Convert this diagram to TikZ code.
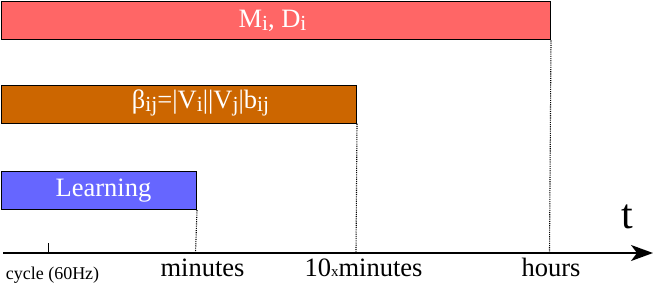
\documentclass[tikz,border=0pt]{standalone}
\usepackage{fontspec}
\setmainfont{Liberation Serif}
\usepackage{tikz}
\usetikzlibrary{arrows.meta,positioning}
\definecolor{slowbar}{RGB}{255,102,102}
\definecolor{midbar}{RGB}{204,102,0}
\definecolor{fastbar}{RGB}{102,102,255}
\newcommand{\lowidx}[1]{\raisebox{-3.5pt}{\fontsize{21.5}{22}\selectfont #1}}

\begin{document}
\begin{tikzpicture}[
  x=1pt, y=-1pt, font=\fontsize{26.5}{30}\selectfont,
  bar/.style={draw, line width=1.2pt, anchor=north west, inner sep=0pt, minimum height=38pt},
  lbl/.style={anchor=base, text=white, inner sep=0pt},
  tlbl/.style={anchor=base, inner sep=0pt},
  guide/.style={line width=1.1pt, dash pattern=on 1.1pt off 1.1pt},
  ar/.style={-{Stealth[length=22pt,width=16pt,inset=6pt]}, line width=1.8pt}
]
\useasboundingbox (0,0) rectangle (654,285);

% bars
\node[bar, fill=slowbar, minimum width=549pt] (md) at (0.8,1.2) {};
\node[bar, fill=midbar, minimum width=355pt] (beta) at (0.8,84.5) {};
\node[bar, fill=fastbar, minimum width=195pt] (learn) at (0.8,171) {};
\node[lbl] (mdlbl) at (272.5,27) {M\lowidx{i}, D\lowidx{i}};
\node[lbl] (betalbl) at (200.5,108) {β\lowidx{ij}=|V\lowidx{i}||V\lowidx{j}|b\lowidx{ij}};
\node[lbl] (learnlbl) at (103.5,196) {Learning};

% time axis
\coordinate (o) at (3,253);
\coordinate (tend) at (653,253);
\coordinate (tick) at (48,253);
\coordinate (mins) at (195.5,253);
\coordinate (tenmins) at (356,253);
\coordinate (hrs) at (549.5,253);
\draw[ar] (o) -- (tend);
\draw[line width=0.8pt] (tick) -- ++(0,-10);
\draw[guide] (learn.south east) -- (mins);
\draw[guide] (beta.south east) -- (tenmins);
\draw[guide] (md.south east) -- (hrs);

\node[tlbl, font=\fontsize{42}{44}\selectfont] (t) at (627,228) {t};
\node[tlbl, font=\fontsize{18}{20}\selectfont] (cyc) at (52.5,279) {cycle (60Hz)};
\node[tlbl] (minlbl) at (202.5,276) {minutes};
\node[tlbl] (tenlbl) at (363.5,276) {10{\fontsize{15}{17}\selectfont x}minutes};
\node[tlbl] (hrslbl) at (551,276) {hours};
\end{tikzpicture}
\end{document}
